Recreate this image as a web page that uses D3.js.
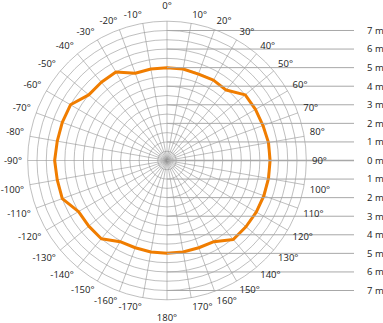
<!DOCTYPE html>
<html>
<head>
<meta charset="utf-8">
<script src="https://cdn.jsdelivr.net/npm/d3@7"></script>
<style>
  body { margin: 0; background: #fff; }
  text { font-family: "Open Sans", "Noto Sans", sans-serif; font-size: 9.5px; fill: #222; }
</style>
</head>
<body>
<script>
// beam angles (deg, 0 = up, clockwise) and measured radius (m)
var angles = [0, 10, 20, 30, 40, 50, 60, 70, 80, 90, 100, 110, 120, 130, 140, 150, 160, 170, 180,
              -170, -160, -150, -140, -130, -120, -110, -100, -90, -80, -70, -60, -50, -40, -30, -20, -10];
var distances = [5.0, 5.0, 4.95, 5.0, 4.95, 5.5, 5.5, 5.5, 5.55, 5.55, 5.55, 5.55, 5.55, 5.55, 5.55, 5.05, 5.0, 5.0, 5.0,
                 5.0, 5.0, 5.05, 5.5, 5.5, 5.5, 6.0, 6.0, 6.05, 6.0, 6.0, 6.0, 5.5, 5.5, 5.5, 5.0, 5.0];
// angle tick labels
var angleTicks = [0, 10, 20, 30, 40, 50, 60, 70, 80, 90, 100, 110, 120, 130, 140, 150, 160, 170, 180,
                  -170, -160, -150, -140, -130, -120, -110, -100, -90, -80, -70, -60, -50, -40, -30, -20, -10];
// distance scale on the right
var meterTicks = [7, 6, 5, 4, 3, 2, 1, 0, -1, -2, -3, -4, -5, -6, -7];
var ringSteps = [0.5, 1, 1.5, 2, 2.5, 3, 3.5, 4, 4.5, 5, 5.5, 6, 6.5, 7, 7.5];

var width = 383, height = 323,
    cx = 167, cy = 160.5;

var svg = d3.select("body").append("svg")
    .attr("width", width)
    .attr("height", height);

var r = d3.scaleLinear().domain([0, 7.5]).range([0, 139.3]);
var y = d3.scaleLinear().domain([0, 1]).range([cy, cy - r(1)]);
var rad = function(a) { return a * Math.PI / 180; };

var g = svg.append("g").attr("transform", "translate(" + cx + "," + cy + ")");

// rings
g.selectAll(".ring")
    .data(ringSteps)
  .enter().append("circle")
    .attr("r", function(d) { return r(d); })
    .style("fill", "none")
    .style("stroke", "#939393")
    .style("stroke-width", 0.6);

// spokes
g.selectAll(".spoke")
    .data(angleTicks)
  .enter().append("line")
    .attr("x2", function(d) { return r(7.5) * Math.sin(rad(d)); })
    .attr("y2", function(d) { return -r(7.5) * Math.cos(rad(d)); })
    .style("stroke", "#939393")
    .style("stroke-width", 0.6);

// horizontal distance lines
svg.selectAll(".hline")
    .data(meterTicks)
  .enter().append("line")
    .attr("x1", cx)
    .attr("x2", 354)
    .attr("y1", function(d) { return y(d); })
    .attr("y2", function(d) { return y(d); })
    .style("stroke", "#a8a8a8")
    .style("stroke-width", function(d) { return d === 0 ? 1.6 : 1; });

svg.selectAll(".mlabel")
    .data(meterTicks)
  .enter().append("text")
    .attr("x", 367)
    .attr("y", function(d) { return y(d); })
    .attr("dy", "0.35em")
    .text(function(d) { return Math.abs(d) + " m"; });

// angle labels
var R = 145;
svg.selectAll(".alabel")
    .data(angleTicks)
  .enter().append("text")
    .attr("x", function(d) { return cx + R * Math.sin(rad(d)); })
    .attr("y", function(d) {
      var c = Math.cos(rad(d));
      if (Math.abs(Math.sin(rad(d))) < 0.01) return cy - (c > 0 ? 151.5 : -154);
      return cy - R * c;
    })
    .attr("dy", function(d) {
      var c = Math.cos(rad(d));
      if (Math.abs(c) < 0.01) return "0.35em";
      return c > 0 ? "0" : "0.72em";
    })
    .attr("text-anchor", function(d) {
      var s = Math.sin(rad(d));
      return s > 0.01 ? "start" : s < -0.01 ? "end" : "middle";
    })
    .text(function(d) { return d + "°"; });

// measured curve
var pts = angles.map(function(a, i) { return {angle: a, value: distances[i]}; });
pts.sort(function(a, b) { return ((a.angle + 360) % 360) - ((b.angle + 360) % 360); });

var line = d3.lineRadial()
    .angle(function(d) { return rad(d.angle); })
    .radius(function(d) { return r(d.value); })
    .curve(d3.curveLinearClosed);

g.append("path")
    .datum(pts)
    .attr("d", line)
    .style("fill", "none")
    .style("stroke", "#f07d00")
    .style("stroke-width", 3)
    .style("stroke-linejoin", "round");
</script>
</body>
</html>
